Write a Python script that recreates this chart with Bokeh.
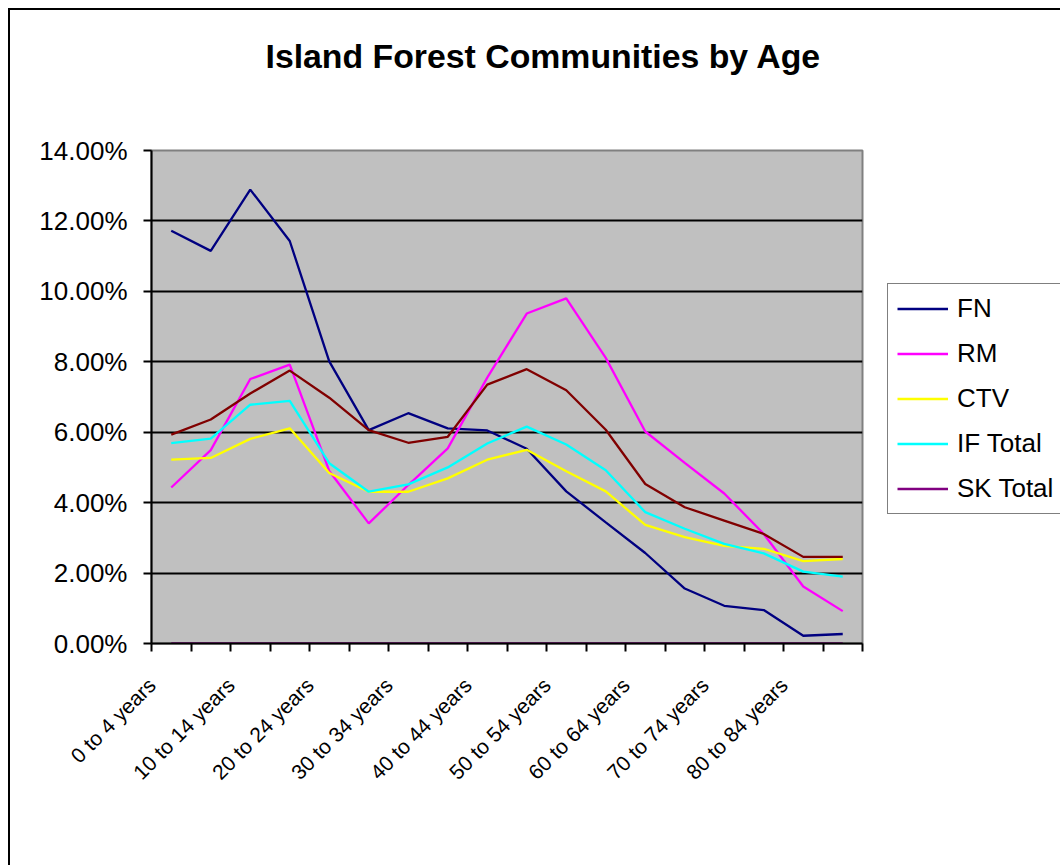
import math

from bokeh.embed import file_html
from bokeh.layouts import row
from bokeh.models import (ColumnDataSource, FixedTicker, Legend, LegendItem,
                          PrintfTickFormatter, Range1d, Title)
from bokeh.plotting import figure
from bokeh.resources import INLINE

# Age groups (five-year bands)
categories = [
    "0 to 4 years", "5 to 9 years", "10 to 14 years", "15 to 19 years",
    "20 to 24 years", "25 to 29 years", "30 to 34 years", "35 to 39 years",
    "40 to 44 years", "45 to 49 years", "50 to 54 years", "55 to 59 years",
    "60 to 64 years", "65 to 69 years", "70 to 74 years", "75 to 79 years",
    "80 to 84 years", "85 years and over",
]

# Share of each community's population in each age group (percent)
fn = [11.72, 11.15, 12.89, 11.43, 8.01, 6.06, 6.54, 6.11, 6.05,
      5.53, 4.32, 3.44, 2.57, 1.56, 1.07, 0.95, 0.22, 0.27]
rm = [4.43, 5.49, 7.51, 7.92, 4.90, 3.41, 4.50, 5.54, 7.55,
      9.37, 9.80, 8.11, 6.02, 5.13, 4.26, 3.11, 1.62, 0.92]
ctv = [5.22, 5.27, 5.81, 6.11, 4.84, 4.31, 4.31, 4.69, 5.22,
       5.50, 4.89, 4.32, 3.37, 3.02, 2.77, 2.69, 2.34, 2.40]
if_total = [5.69, 5.82, 6.78, 6.89, 5.12, 4.31, 4.52, 5.00, 5.68,
            6.16, 5.65, 4.92, 3.73, 3.26, 2.83, 2.56, 2.04, 1.90]
sk_total = [0.0, 0.0, 0.0, 0.0, 0.0, 0.0, 0.0, 0.0, 0.0,
            0.0, 0.0, 0.0, 0.0, 0.0, 0.0, 0.0, 0.0, 0.0]
region_total = [5.93, 6.36, 7.10, 7.75, 6.98, 6.06, 5.70, 5.87, 7.35,
                7.79, 7.19, 6.07, 4.53, 3.87, 3.49, 3.11, 2.46, 2.46]

y_ticks = [0, 2, 4, 6, 8, 10, 12, 14]

FONT = "Liberation Sans"
LINE_W = 2.3

n = len(categories)
source = ColumnDataSource(dict(
    x=[i + 0.5 for i in range(n)],
    fn=fn, rm=rm, ctv=ctv, if_total=if_total,
    sk_total=sk_total, region_total=region_total,
))

# ---- main chart -------------------------------------------------------
p = figure(
    width=862, height=857,
    output_backend="svg", toolbar_location=None,
    x_range=Range1d(0, n), y_range=Range1d(y_ticks[0], y_ticks[-1]),
    min_border_left=141, min_border_top=140,
    min_border_right=10, min_border_bottom=224,
    margin=(8, 0, 0, 8),
    styles={"border-left": "2px solid black", "border-top": "2px solid black"},
)
p.border_fill_color = "white"
p.background_fill_color = "#C0C0C0"
p.outline_line_color = "#808080"
p.outline_line_width = 2

# blank strip between the plot area and the title
p.add_layout(Title(text=" ", text_font_size="1px", standoff=73), "above")

p.title.text = "Island Forest Communities by Age"
p.title.align = "left"
p.title.offset = 114
p.title.standoff = 0
p.title.text_font = FONT
p.title.text_font_size = "33.8px"
p.title.text_font_style = "bold"
p.title.text_color = "black"

# grid: horizontal black lines only
p.xgrid.visible = False
p.ygrid.ticker = FixedTicker(ticks=y_ticks[1:-1])
p.ygrid.grid_line_color = "black"
p.ygrid.grid_line_width = 2

# y axis
yax = p.yaxis[0]
yax.ticker = FixedTicker(ticks=y_ticks)
yax.formatter = PrintfTickFormatter(format="%.2f%%")
yax.axis_line_color = "black"
yax.axis_line_width = 2
yax.major_tick_in = 0
yax.major_tick_out = 8
yax.major_tick_line_width = 2
yax.major_tick_line_color = "black"
yax.minor_tick_line_color = None
yax.major_label_standoff = 16
yax.major_label_text_font = FONT
yax.major_label_text_font_size = "26px"
yax.major_label_text_color = "black"

# x axis: tick marks on group boundaries, labels on every other group
label_shift = 0.49
label_idx = list(range(0, n, 2))
label_pos = [i + 0.5 - label_shift for i in label_idx]
xax = p.xaxis[0]
xax.ticker = FixedTicker(ticks=label_pos, minor_ticks=list(range(n + 1)))
xax.major_label_overrides = {pos: categories[i] for pos, i in zip(label_pos, label_idx)}
xax.axis_line_color = "black"
xax.axis_line_width = 2
xax.major_tick_in = 0
xax.major_tick_out = 0
xax.major_tick_line_color = None
xax.minor_tick_in = 0
xax.minor_tick_out = 8
xax.minor_tick_line_width = 2
xax.minor_tick_line_color = "black"
xax.major_label_orientation = math.pi / 4
xax.major_label_standoff = 30
xax.major_label_text_font = FONT
xax.major_label_text_font_size = "21px"
xax.major_label_text_color = "black"

series = [
    ("fn", "FN", "#000080"),
    ("rm", "RM", "#FF00FF"),
    ("ctv", "CTV", "#FFFF00"),
    ("if_total", "IF Total", "#00FFFF"),
    ("sk_total", "SK Total", "#800080"),
]
for col, name, color in series:
    p.line("x", col, source=source, line_color=color, line_width=LINE_W)
p.line("x", "region_total", source=source, line_color="#800000", line_width=LINE_W)

# ---- legend panel to the right of the chart ------------------------------
# (its plot frame lines up with the main chart's frame inside the row; the
#  x range lies outside the data, so only the legend swatches show)
side = figure(
    width=190, height=857,
    output_backend="svg", toolbar_location=None,
    x_range=Range1d(-2, -1), y_range=Range1d(y_ticks[0], y_ticks[-1]),
    x_axis_location=None, y_axis_location=None,
    min_border=0,
    margin=(8, 0, 0, 0),
    styles={"border-top": "2px solid black"},
)
side.border_fill_color = "white"
side.background_fill_color = "white"
side.outline_line_color = None
side.grid.visible = False

items = []
for col, name, color in series:
    r = side.line("x", col, source=source, line_color=color, line_width=LINE_W)
    items.append(LegendItem(label=name, renderers=[r]))

legend = Legend(
    items=items,
    location=(17, 129),
    border_line_color="black", border_line_width=1.5,
    background_fill_color="white", background_fill_alpha=1,
    padding=9, spacing=14, margin=0,
    glyph_width=51, glyph_height=29, label_height=29,
    label_standoff=9,
    label_text_font=FONT, label_text_font_size="26px",
    label_text_color="black",
)
side.add_layout(legend)

layout = row(p, side)

with open("out.html", "w") as f:
    f.write(file_html(layout, INLINE))
